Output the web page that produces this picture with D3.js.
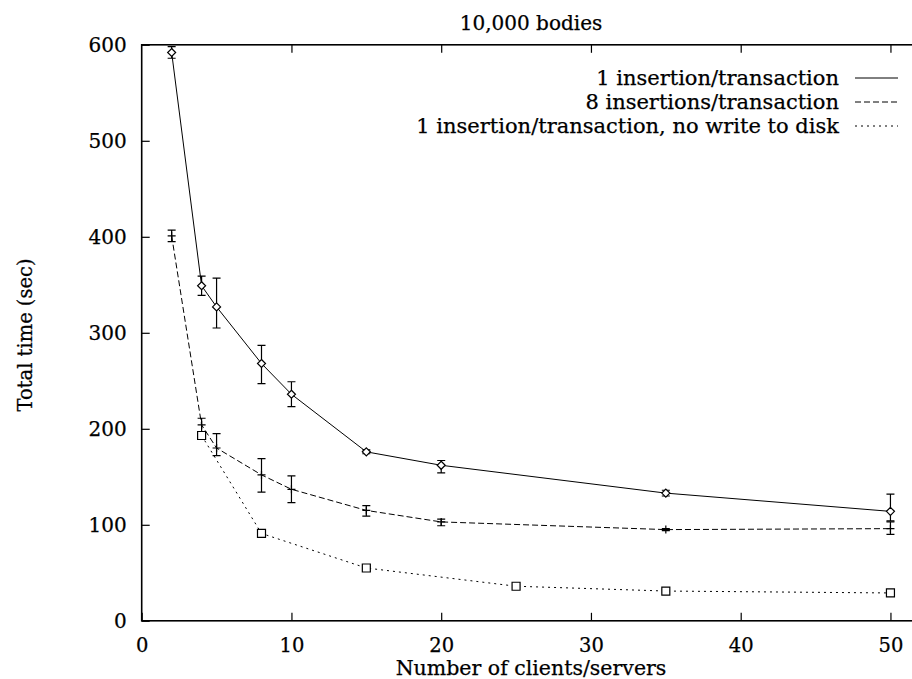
<!DOCTYPE html>
<html><head><meta charset="utf-8">
<script src="https://cdn.jsdelivr.net/npm/d3@7"></script>
<style>
html,body{margin:0;padding:0;background:#fff;}
svg{display:block;}
text{font-family:"DejaVu Serif",serif;fill:#000;stroke:#000;stroke-width:0.25px;}
</style></head>
<body>
<svg id="chart" width="912" height="679"></svg>
<script>
// ---- data ----
const title = "10,000 bodies";
const xLabel = "Number of clients/servers";
const yLabel = "Total time (sec)";
const xTicks = [0, 10, 20, 30, 40, 50];
const yTicks = [0, 100, 200, 300, 400, 500, 600];

const seriesNames = ["1 insertion/transaction", "8 insertions/transaction", "1 insertion/transaction, no write to disk"];

const x1 = [2, 4, 5, 8, 10, 15, 20, 35, 50];
const y1 = [592, 349, 327, 268, 236, 176, 162, 133, 114];
const lo1 = [586, 339, 305, 247, 223, 174, 154, 130, 104];
const hi1 = [598, 359, 357, 287, 249, 178, 167, 136, 132];

const x2 = [2, 4, 5, 8, 10, 15, 20, 35, 50];
const y2 = [401, 204, 180, 152, 137, 115, 103, 95, 96];
const lo2 = [395, 197, 172, 134, 123, 109, 99, 94, 90];
const hi2 = [407, 211, 195, 169, 151, 120, 106, 96, 103];

const x3 = [4, 8, 15, 25, 35, 50];
const y3 = [193, 91, 55, 36, 31, 29];
const lo3 = [192, 90, 54, 35, 30, 28];
const hi3 = [194, 92, 56, 37, 32, 30];

// ---- layout ----
const svg = d3.select("#chart");
const L = 141.7, T = 44.8, B = 620.8;
const x = d3.scaleLinear().domain([0, 51.5]).range([L, L + 51.5 * 14.975]);
const y = d3.scaleLinear().domain([0, 600]).range([B, T]);
const R = x(51.5);

const series = [
  {xs: x1, ys: y1, lo: lo1, hi: hi1, dash: null, marker: "diamond"},
  {xs: x2, ys: y2, lo: lo2, hi: hi2, dash: "6,3", marker: "plus"},
  {xs: x3, ys: y3, lo: lo3, hi: hi3, dash: "2,4", marker: "square"}
];

// axes
const gx = svg.append("g").attr("transform", `translate(0,${B})`)
  .call(d3.axisBottom(x).tickValues(xTicks).tickSizeInner(-8).tickSizeOuter(0).tickPadding(17.8).tickFormat(d3.format("d")));
gx.select(".domain").remove();
gx.selectAll("text").attr("font-size", 19.5).attr("font-family", "DejaVu Serif");
gx.selectAll("line").attr("stroke-width", 1.2);

const gxt = svg.append("g").attr("transform", `translate(0,${T})`)
  .call(d3.axisTop(x).tickValues(xTicks.filter(d => d > 0)).tickSizeInner(-8).tickSizeOuter(0).tickFormat(""));
gxt.select(".domain").remove();
gxt.selectAll("line").attr("stroke-width", 1.2);

const gy = svg.append("g").attr("transform", `translate(${L},0)`)
  .call(d3.axisLeft(y).tickValues(yTicks).tickSizeInner(-8).tickSizeOuter(0).tickPadding(15).tickFormat(d3.format("d")));
gy.select(".domain").remove();
gy.selectAll("text").attr("font-size", 20).attr("font-family", "DejaVu Serif");
gy.selectAll("line").attr("stroke-width", 1.2);

// border
svg.append("rect").attr("x", L).attr("y", T).attr("width", R - L).attr("height", B - T)
  .attr("fill", "none").attr("stroke", "#000").attr("stroke-width", 1.6);

// series
const line = d3.line().x(d => x(d[0])).y(d => y(d[1]));
series.forEach(s => {
  const pts = s.xs.map((v, i) => [v, s.ys[i]]);
  svg.append("path").attr("d", line(pts)).attr("fill", "none").attr("stroke", "#000")
    .attr("stroke-width", 1).attr("stroke-dasharray", s.dash);
  const g = svg.append("g").attr("stroke", "#000").attr("stroke-width", 1.2).attr("fill", "none");
  s.xs.forEach((v, i) => {
    const cx = x(v), cy = y(s.ys[i]), ylo = y(s.lo[i]), yhi = y(s.hi[i]);
    g.append("path").attr("d", `M${cx},${ylo}V${yhi}M${cx-4},${ylo}H${cx+4}M${cx-4},${yhi}H${cx+4}`);
    let d;
    if (s.marker === "diamond") d = `M${cx},${cy-4}L${cx+4},${cy}L${cx},${cy+4}L${cx-4},${cy}Z`;
    else if (s.marker === "square") d = `M${cx-4},${cy-4}H${cx+4}V${cy+4}H${cx-4}Z`;
    else d = `M${cx-4},${cy}H${cx+4}M${cx},${cy-4}V${cy+4}`;
    g.append("path").attr("d", d).attr("fill", s.marker === "plus" ? "none" : "#fff");
  });
});

// title & labels
svg.append("text").attr("x", 531).attr("y", 30).attr("text-anchor", "middle").attr("font-size", 20).text(title);
svg.append("text").attr("x", 531).attr("y", 674.5).attr("text-anchor", "middle").attr("font-size", 20.5).text(xLabel);
svg.append("text").attr("transform", "translate(31.5,335) rotate(-90)").attr("text-anchor", "middle").attr("font-size", 19.5).text(yLabel);

// legend
const legY = [78, 102, 126];
series.forEach((s, i) => {
  svg.append("text").attr("x", 839).attr("y", legY[i]).attr("dy", "0.35em").attr("text-anchor", "end")
    .attr("font-size", 21).text(seriesNames[i]);
  svg.append("line").attr("x1", 855).attr("x2", 898).attr("y1", legY[i]).attr("y2", legY[i])
    .attr("stroke", "#000").attr("stroke-width", 1).attr("stroke-dasharray", s.dash);
});
</script>
</body></html>
